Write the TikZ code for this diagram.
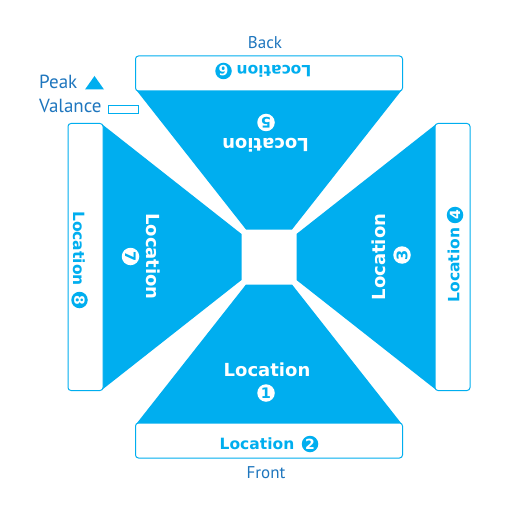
\documentclass[tikz,border=0pt]{standalone}
\usepackage{fontspec}
\newfontfamily\locfont{DejaVu Sans}
\newfontfamily\legfont{PT Sans}
\definecolor{cyanb}{RGB}{0,174,239}
\definecolor{txtb}{RGB}{30,118,190}
\tikzset{
  peak/.style={fill=cyanb, draw=none},
  valance/.style={draw=cyanb, line width=1pt, fill=white, rounded corners=3pt},
  loc/.style={font=\locfont\bfseries\fontsize{18}{18}\selectfont, text=white, inner sep=0pt},
  vloc/.style={font=\locfont\bfseries\fontsize{15.5}{15.5}\selectfont, text=cyanb, inner sep=0pt},
  inum/.style={circle, fill=white, text=cyanb, minimum size=17.5pt, inner sep=0pt, font=\locfont\bfseries\fontsize{14.5}{14.5}\selectfont},
  onum/.style={circle, fill=cyanb, text=white, minimum size=16.5pt, inner sep=0pt, font=\locfont\bfseries\fontsize{14}{14}\selectfont},
  leg/.style={font=\legfont\fontsize{19}{19}\selectfont, text=txtb, inner sep=0pt},
  side/.style={font=\legfont\fontsize{17}{17}\selectfont, text=txtb, inner sep=0pt}
}
\begin{document}
\begin{tikzpicture}[x=1pt,y=-1pt]
\useasboundingbox[fill=white] (0,0) rectangle (510,510);
% peaks
\fill[peak] (137,91) -- (401,91) -- (292,229.5) -- (246,229.5) -- cycle;
\fill[peak] (137,423) -- (401,423) -- (292,284.5) -- (246,284.5) -- cycle;
\fill[peak] (103,125) -- (103,389) -- (241.5,280) -- (241.5,234) -- cycle;
\fill[peak] (435,125) -- (435,389) -- (296.5,280) -- (296.5,234) -- cycle;
% valances
\draw[valance] (135.5,56) rectangle (402.5,91);
\draw[valance] (135.5,423) rectangle (402.5,458);
\draw[valance] (68,123.5) rectangle (103,390.5);
\draw[valance] (435,123.5) rectangle (470,390.5);
% location labels
\node[loc] (l1) at (267,369.5) {Location};
\node[inum] (n1) at (266,393) {1};
\node[vloc] (l2) at (257,444) {Location};
\node[onum] (n2) at (310,444) {2};
\node[loc, rotate=90] (l3) at (379,257) {Location};
\node[inum, rotate=90] (n3) at (402,255) {3};
\node[vloc, rotate=90] (l4) at (453.5,265) {Location};
\node[onum, rotate=90] (n4) at (455,215) {4};
\node[loc, rotate=180] (l5) at (265.5,145) {Location};
\node[inum, rotate=180] (n5) at (266,122.5) {5};
\node[vloc, rotate=180] (l6) at (274,71.5) {Location};
\node[onum, rotate=180] (n6) at (223.5,71) {6};
\node[loc, rotate=-90] (l7) at (153,256.5) {Location};
\node[inum, rotate=-90] (n7) at (130.5,256.5) {7};
\node[vloc, rotate=-90] (l8) at (79,248.5) {Location};
\node[onum, rotate=-90] (n8) at (79.5,300) {8};
% side labels
\node[side, anchor=base] (back) at (265,49) {Back};
\node[side, anchor=base] (front) at (266,478) {Front};
% legend
\node[leg, anchor=base west] (peaklbl) at (39,89) {Peak};
\fill[peak] (85,89.5) -- (104,89.5) -- (94.5,76) -- cycle;
\node[leg, anchor=base west] (vallbl) at (39,113) {Valance};
\draw[cyanb, line width=1pt] (108.5,106) rectangle (138.5,114);
\end{tikzpicture}
\end{document}
